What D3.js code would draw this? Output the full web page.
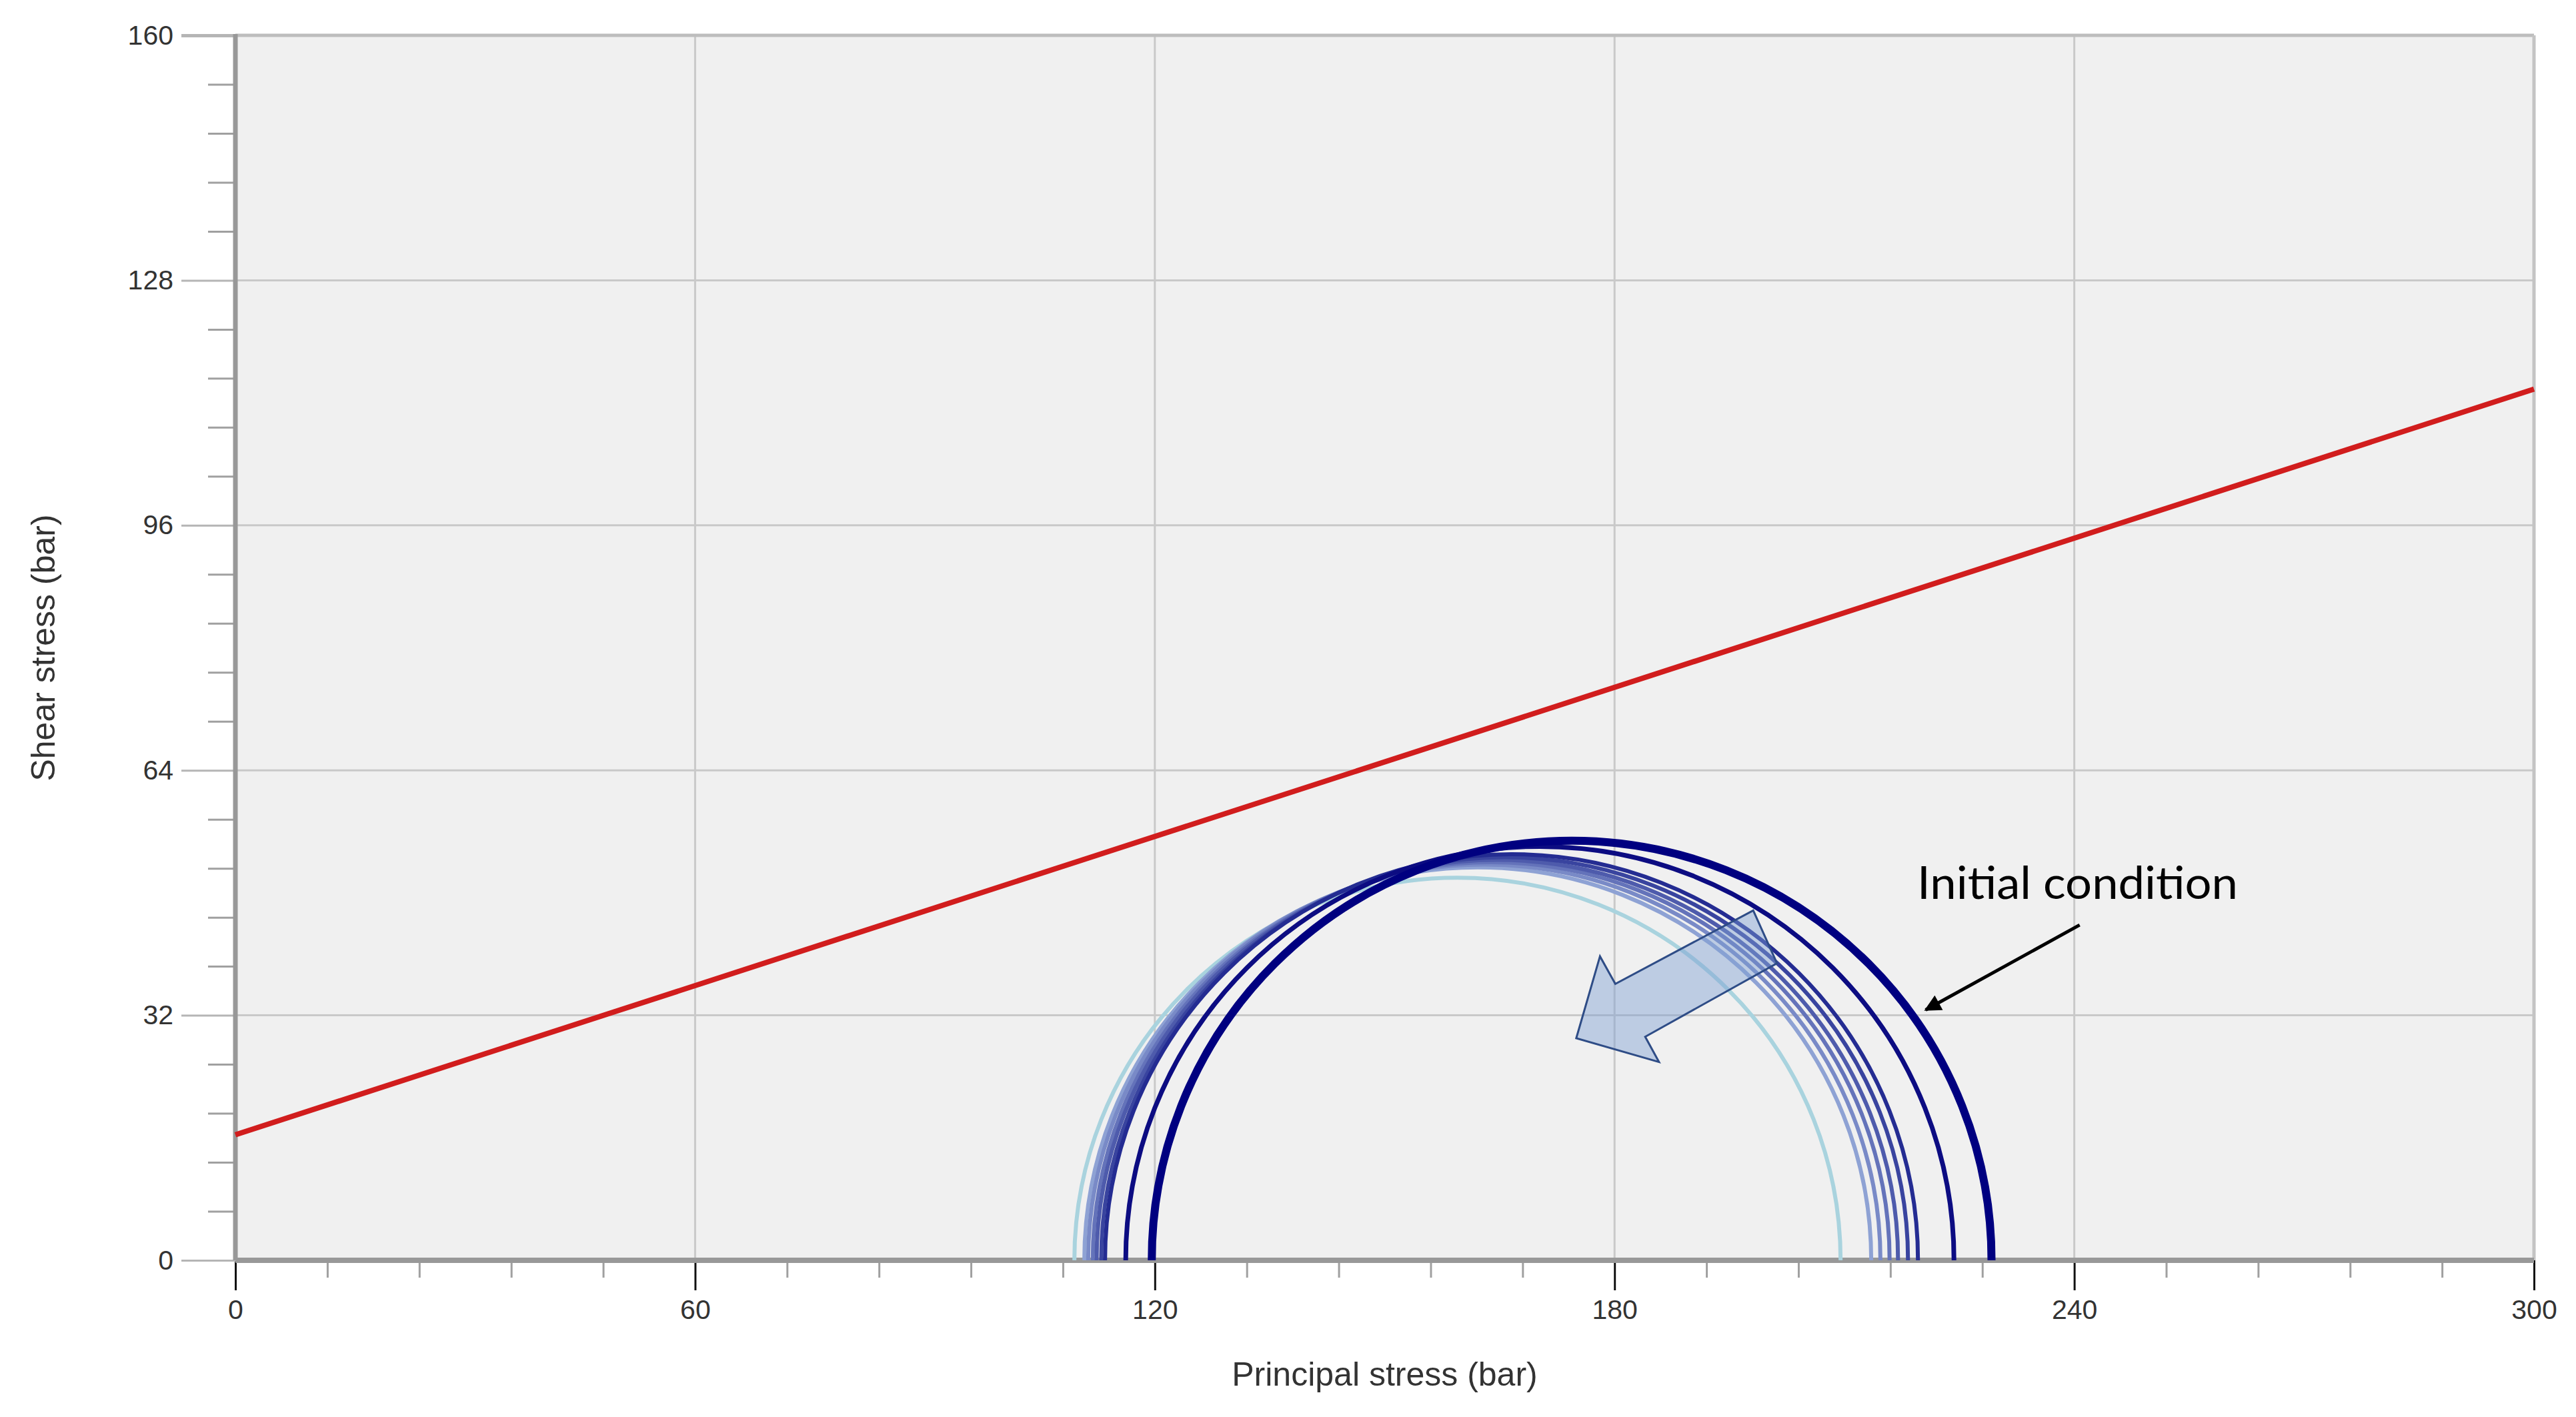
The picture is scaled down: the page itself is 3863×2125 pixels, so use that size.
<!DOCTYPE html>
<html>
<head>
<meta charset="utf-8">
<script src="https://cdn.jsdelivr.net/npm/d3@7"></script>
<style>
  html, body { margin: 0; padding: 0; background: #fff; }
  svg { display: block; font-family: "Liberation Sans", Arial, sans-serif; }
</style>
</head>
<body>
<div id="chart"></div>
<script>
const xTicks = [0, 60, 120, 180, 240, 300];
const yTicks = [0, 32, 64, 96, 128, 160];
const xLabel = "Principal stress (bar)";
const yLabel = "Shear stress (bar)";

// Mohr circles, initial condition first -> last step
const circleStep = [0, 1, 2, 3, 4, 5, 6, 7, 8];
const sigma3 = [119.6, 116.2, 113.5, 113.0, 112.4, 111.9, 111.3, 110.8, 109.5];
const sigma1 = [229.2, 224.3, 219.6, 218.3, 217.0, 215.9, 214.7, 213.5, 209.5];

// failure envelope (red line)
const envelopeX = [0, 300];
const envelopeY = [16.4, 113.8];

// block arrow outline, in data units
const arrowX = [198.1, 180.1, 178.1, 175.0, 185.8, 184.0, 201.2];
const arrowY = [45.7, 36.1, 39.7, 29.0, 25.9, 29.2, 38.8];

// annotation
const noteText = "Initial condition";
const notePos = [219.5, 47.2];
const noteFrom = [240.7, 43.8];
const noteTo = [220.6, 32.7];

const W = 3863, H = 2125, m = { l: 353, r: 63, t: 53, b: 235 };
const x = d3.scaleLinear().domain([0, 300]).range([m.l, W - m.r]);
const y = d3.scaleLinear().domain([0, 160]).range([H - m.b, m.t]);

const svg = d3.select("#chart").append("svg").attr("width", W).attr("height", H);
svg.append("rect").attr("width", W).attr("height", H).attr("fill", "#fff");
svg.append("rect").attr("x", x(0)).attr("y", y(160))
  .attr("width", x(300) - x(0)).attr("height", y(0) - y(160)).attr("fill", "#f0f0f0");

const defs = svg.append("defs");
defs.append("marker").attr("id", "head").attr("viewBox", "0 0 10 10")
  .attr("refX", 9).attr("refY", 5).attr("markerWidth", 6).attr("markerHeight", 5)
  .attr("markerUnits", "strokeWidth").attr("orient", "auto")
  .append("path").attr("d", "M0,0 L10,5 L0,10 Z").attr("fill", "#000");

// grid
svg.append("g").selectAll("line").data(xTicks.filter((d) => d > 0 && d < 300)).join("line")
  .attr("x1", (d) => x(d)).attr("x2", (d) => x(d)).attr("y1", y(160)).attr("y2", y(0))
  .attr("stroke", "#c9c9c9").attr("stroke-width", 3);
svg.append("g").selectAll("line").data(yTicks.filter((d) => d > 0)).join("line")
  .attr("x1", x(0)).attr("x2", x(300)).attr("y1", (d) => y(d)).attr("y2", (d) => y(d))
  .attr("stroke", (d) => d === 160 ? "#bdbdbd" : "#c9c9c9").attr("stroke-width", (d) => d === 160 ? 5 : 3);
svg.append("line").attr("x1", x(300)).attr("x2", x(300)).attr("y1", y(160)).attr("y2", y(0))
  .attr("stroke", "#c4c4c4").attr("stroke-width", 5);

// minor ticks
const xMinor = d3.range(0, 26).map((i) => i * 12).filter((d, i) => i % 5 !== 0);
const yMinor = d3.range(0, 26).map((i) => i * 6.4).filter((d, i) => i % 5 !== 0);
const gxMinor = svg.append("g").attr("transform", `translate(0,${y(0)})`)
  .call(d3.axisBottom(x).tickValues(xMinor).tickSize(26).tickFormat(""));
gxMinor.select(".domain").remove();
gxMinor.selectAll("line").attr("stroke", "#a0a0a0").attr("stroke-width", 3);
const gyMinor = svg.append("g").attr("transform", `translate(${x(0)},0)`)
  .call(d3.axisLeft(y).tickValues(yMinor).tickSize(41).tickFormat(""));
gyMinor.select(".domain").remove();
gyMinor.selectAll("line").attr("stroke", "#a0a0a0").attr("stroke-width", 3);

// major axes
const gx = svg.append("g").attr("transform", `translate(0,${y(0)})`)
  .call(d3.axisBottom(x).tickValues(xTicks).tickSize(45).tickPadding(14).tickFormat(d3.format("d")));
gx.select(".domain").remove();
gx.selectAll("line").attr("stroke", "#111").attr("stroke-width", 3);
gx.selectAll("text").attr("font-size", 41).attr("fill", "#333");

const gy = svg.append("g").attr("transform", `translate(${x(0)},0)`)
  .call(d3.axisLeft(y).tickValues(yTicks).tickSize(81).tickPadding(12).tickFormat(d3.format("d")));
gy.select(".domain").remove();
gy.selectAll("line").attr("stroke", "#b5b5b5").attr("stroke-width", (d) => d === 160 ? 5 : 3);
gy.selectAll("text").attr("font-size", 41).attr("fill", "#333");

// axis lines
svg.append("line").attr("x1", x(0)).attr("x2", x(300)).attr("y1", y(0)).attr("y2", y(0))
  .attr("stroke", "#989898").attr("stroke-width", 8);
svg.append("line").attr("x1", x(0)).attr("x2", x(0)).attr("y1", y(160) - 2).attr("y2", y(0))
  .attr("stroke", "#989898").attr("stroke-width", 7);

// failure envelope
svg.append("line").attr("x1", x(envelopeX[0])).attr("y1", y(envelopeY[0]))
  .attr("x2", x(envelopeX[1])).attr("y2", y(envelopeY[1]))
  .attr("stroke", "#d11d1d").attr("stroke-width", 8);

// Mohr circles (upper halves), last step drawn first so the initial circle sits on top
const midColor = d3.scaleLinear().domain([2, 7]).range(["#242c92", "#8ea2d4"]).interpolate(d3.interpolateRgb);
const circleColor = (i) => i === 0 ? "#000080" : i === 1 ? "#0c0c82" : i === 8 ? "#a9d3de" : midColor(i);
const circleWidth = (i) => i === 0 ? 12 : i === 1 ? 7 : 6;
const arc = (i) => {
  const rx = (x(sigma1[i]) - x(sigma3[i])) / 2;
  const ry = y(0) - y((sigma1[i] - sigma3[i]) / 2);
  return `M${x(sigma3[i])},${y(0)} A${rx},${ry} 0 0 1 ${x(sigma1[i])},${y(0)}`;
};
svg.append("g").selectAll("path").data(circleStep.slice().reverse()).join("path")
  .attr("d", arc).attr("fill", "none")
  .attr("stroke", circleColor).attr("stroke-width", circleWidth);

// block arrow showing the evolution
const arrowPts = arrowX.map((v, i) => [v, arrowY[i]]);
svg.append("path")
  .attr("d", d3.line().x((d) => x(d[0])).y((d) => y(d[1])).curve(d3.curveLinearClosed)(arrowPts))
  .attr("fill", "#7f9fd2").attr("fill-opacity", 0.45)
  .attr("stroke", "#2e4c86").attr("stroke-width", 3).attr("stroke-linejoin", "miter");

// annotation
svg.append("line").attr("x1", x(noteFrom[0])).attr("y1", y(noteFrom[1]))
  .attr("x2", x(noteTo[0])).attr("y2", y(noteTo[1]))
  .attr("stroke", "#000").attr("stroke-width", 5).attr("marker-end", "url(#head)");
svg.append("text").attr("x", x(notePos[0])).attr("y", y(notePos[1]))
  .attr("font-family", "Lato, 'Open Sans', sans-serif").attr("font-size", 67)
  .attr("textLength", 481).attr("lengthAdjust", "spacingAndGlyphs")
  .attr("fill", "#000").text(noteText);

// axis titles
svg.append("text").attr("x", (x(0) + x(300)) / 2).attr("y", 2078)
  .attr("text-anchor", "middle").attr("font-size", 50).attr("fill", "#333").text(xLabel);
svg.append("text").attr("transform", `translate(82,${(y(0) + y(160)) / 2}) rotate(-90)`)
  .attr("text-anchor", "middle").attr("font-size", 50).attr("fill", "#333").text(yLabel);
</script>
</body>
</html>
